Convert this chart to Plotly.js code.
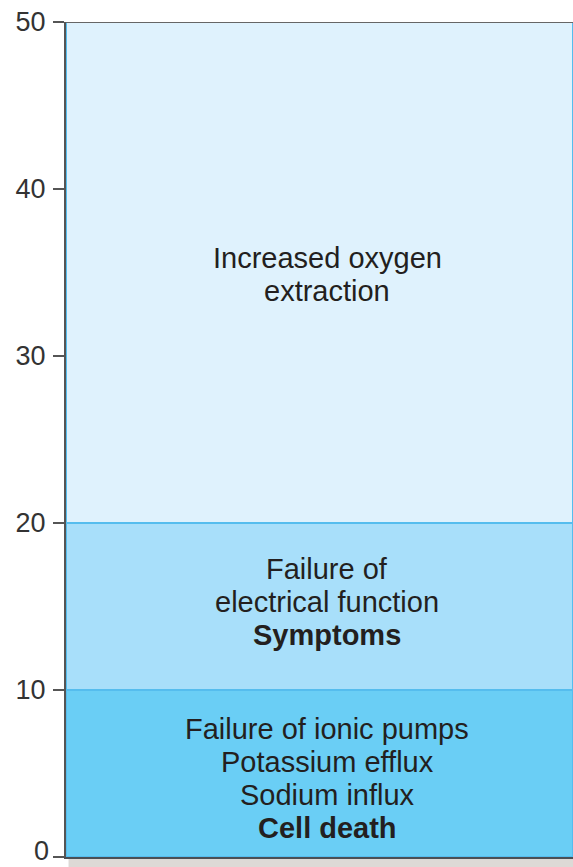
<!DOCTYPE html>
<html>
<head>
<meta charset="utf-8">
<script src="https://cdn.plot.ly/plotly-3.0.1.min.js"></script>
<style>html,body{margin:0;padding:0;background:#fff;}#chart{width:573px;height:867px;}</style>
</head>
<body>
<div id="chart"></div>
<script>
// Data
var bandStart = [0, 10, 20];
var bandEnd = [10, 20, 50];
var bandLines = [
  ["Failure of ionic pumps", "Potassium efflux", "Sodium influx", "<b>Cell death</b>"],
  ["Failure of", "electrical function", "<b>Symptoms</b>"],
  ["Increased oxygen", "extraction"]
];
var yTicks = [0, 10, 20, 30, 40, 50];

// Styles
var bandColors = ['#6ACEF5', '#A8DFFA', '#DFF2FD'];
var lineGap = 33;
var bandShift = [-5, 5, -2];
var fontFam = '"Liberation Sans", Arial, Helvetica, sans-serif';
var tickFont = {family: fontFam, size: 27, color: '#333'};

var traces = [{
  type: 'bar',
  x: bandStart.map(function(){ return 0; }),
  base: bandStart,
  y: bandStart.map(function(s, i){ return bandEnd[i] - s; }),
  width: 1,
  marker: {color: bandColors, line: {color: '#55BDEE', width: 2}},
  hoverinfo: 'none',
  showlegend: false
}];

var annotations = [];
bandLines.forEach(function(lines, b){
  var mid = (bandStart[b] + bandEnd[b]) / 2;
  var n = lines.length;
  lines.forEach(function(t, i){
    annotations.push({
      x: 0.015, y: mid, xref: 'x', yref: 'y',
      text: t, showarrow: false,
      xanchor: 'center', yanchor: 'middle',
      yshift: ((n - 1) / 2 - i) * lineGap + bandShift[b],
      font: {family: fontFam, size: 29, color: '#231F20'}
    });
  });
});
// the lowest tick label, lifted slightly so it stays inside the picture
annotations.push({
  x: 0, xref: 'paper', y: yTicks[0], yref: 'y',
  text: String(yTicks[0]), showarrow: false,
  xanchor: 'right', yanchor: 'middle', xshift: -16, yshift: 6,
  borderpad: 0,
  font: tickFont
});

var layout = {
  width: 573, height: 867,
  margin: {l: 66, r: 0, t: 22, b: 10, pad: 0},
  paper_bgcolor: '#ffffff', plot_bgcolor: '#ffffff',
  barmode: 'overlay',
  xaxis: {range: [-0.5, 0.5], showgrid: false, zeroline: false, showticklabels: false,
          ticks: '', showline: true, linecolor: '#4A4F55', linewidth: 2, mirror: false, fixedrange: true},
  yaxis: {range: [0, 50], tickvals: yTicks, ticktext: yTicks.map(function(v, i){ return i === 0 ? '' : String(v); }),
          showgrid: false, zeroline: false, ticks: 'outside', ticklen: 11, tickwidth: 2, tickcolor: '#555',
          showline: true, linecolor: '#555', linewidth: 2, ticklabeloverflow: 'allow',
          tickfont: tickFont, ticklabelstandoff: 2, fixedrange: true},
  shapes: [
    {type: 'line', xref: 'paper', yref: 'y', x0: 0, x1: 1, y0: 50, y1: 50, line: {color: '#666', width: 2}},
    {type: 'rect', xref: 'paper', yref: 'paper', x0: 0.005, x1: 1, y0: -0.0125, y1: -0.002, fillcolor: '#DDD9D6', line: {width: 0}, layer: 'below'}
  ],
  annotations: annotations
};

Plotly.newPlot('chart', traces, layout, {displayModeBar: false, staticPlot: true});
</script>
</body>
</html>
